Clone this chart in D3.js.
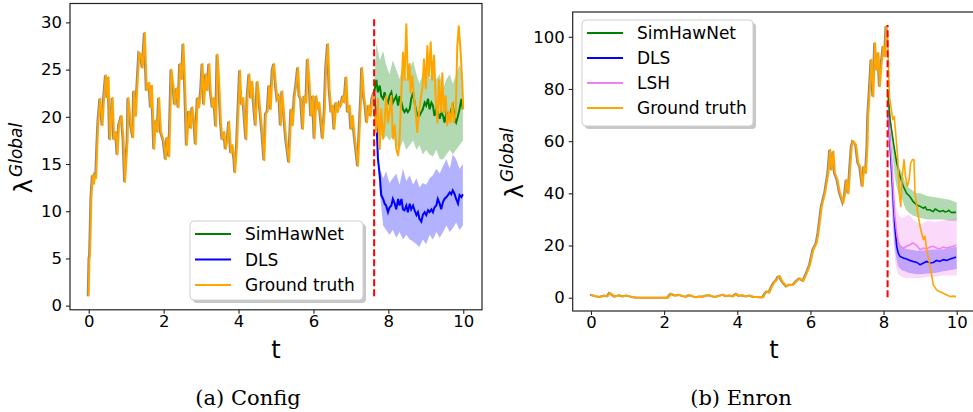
<!DOCTYPE html>
<html lang="en">
  <head>
    <meta charset="utf-8">
    <title>Global intensity forecasts</title>
    <script src="https://d3js.org/d3.v7.js"></script>
    <style>
      body { margin: 0; background: white; }
      * { font-family: "DejaVu Sans", sans-serif; }
      .tick text { font-size: 16.5px; fill: black; }
      .legend text { font-size: 17px; }
      .caption { font-family: "DejaVu Serif", serif; font-size: 21px; }
    </style>
  </head>
  <body>
    <script>
      // ---- data: [t, value] and bands [t, low, high] ----
      const xTicks = [0, 2, 4, 6, 8, 10];
      const configYTicks = [0, 5, 10, 15, 20, 25, 30];
      const enronYTicks = [0, 20, 40, 60, 80, 100];

      // (a) Config
      const configCut = 7.62;
      const configTruthPast = [[0,1.0],[0.02,5.0],[0.035,5.3],[0.05,7.5],[0.07,11.2],[0.09,12.6],[0.11,13.8],[0.14,12.9],[0.17,13.8],[0.2,13.5],[0.23,17.0],[0.26,19.6],[0.31,21.9],[0.37,19.1],[0.41,22],[0.46,24.4],[0.5,22],[0.53,24.2],[0.57,17.6],[0.64,22],[0.68,17.6],[0.73,18.4],[0.77,16],[0.81,19.1],[0.88,20.1],[0.93,17.6],[0.97,13.1],[1.04,17.6],[1.06,22],[1.13,19.1],[1.19,17.8],[1.21,22.7],[1.26,20.1],[1.3,23.3],[1.35,26.8],[1.39,26.6],[1.44,25.2],[1.5,28.9],[1.55,22.8],[1.62,23.6],[1.66,21],[1.69,23.3],[1.75,16.6],[1.79,19.6],[1.84,18.4],[1.88,22],[1.93,18.4],[2.0,17.5],[2.06,15.5],[2.1,17.8],[2.15,15.8],[2.21,25],[2.27,23],[2.3,21.3],[2.35,23],[2.4,21],[2.44,25.6],[2.49,24],[2.53,27.7],[2.58,22.6],[2.62,17],[2.68,20.6],[2.73,18.8],[2.77,21],[2.82,19.5],[2.86,17.1],[2.91,22],[2.95,21],[3.0,22.7],[3.04,25.6],[3.08,21.3],[3.13,24.5],[3.17,22.8],[3.22,25.6],[3.26,22.6],[3.31,21],[3.35,22],[3.4,19],[3.44,26.6],[3.48,24],[3.53,19.5],[3.57,17.6],[3.62,18.4],[3.66,16.6],[3.71,17.6],[3.75,19.5],[3.8,16.2],[3.84,17],[3.89,15.5],[3.91,14.1],[3.96,17],[4.0,21],[4.04,24.9],[4.08,21.3],[4.13,22],[4.18,19],[4.21,17.6],[4.24,22],[4.29,24.5],[4.33,22],[4.37,23.7],[4.42,21],[4.46,19.1],[4.51,23.7],[4.55,22],[4.6,19.9],[4.64,18.1],[4.69,15.4],[4.73,20.3],[4.78,20.6],[4.82,23.3],[4.86,20.8],[4.91,24.9],[4.95,25.6],[5.0,23.3],[5.04,21.8],[5.09,22.2],[5.13,19.1],[5.17,22.7],[5.22,20.1],[5.27,17.7],[5.35,15.2],[5.41,20.8],[5.45,19.1],[5.5,22.2],[5.54,23.3],[5.59,25.2],[5.63,22.2],[5.67,21.9],[5.72,18.7],[5.76,22.2],[5.81,21.5],[5.85,26.1],[5.9,23.3],[5.94,20.1],[5.99,22.2],[6.03,17.7],[6.08,22.2],[6.12,20.8],[6.16,21.5],[6.21,19.4],[6.25,17.7],[6.3,20.5],[6.34,25.2],[6.39,27.7],[6.43,23],[6.48,20.5],[6.52,21.2],[6.56,18.7],[6.61,21.5],[6.65,20.5],[6.7,21.5],[6.74,21.2],[6.79,22.2],[6.83,21.5],[6.88,24.2],[6.92,20.5],[6.97,21.2],[7.01,18.7],[7.05,20.1],[7.1,18],[7.14,16.6],[7.19,14.8],[7.23,18.4],[7.28,22.6],[7.3,25.2],[7.35,22.2],[7.39,21.2],[7.43,19.4],[7.48,21.2],[7.53,20.1],[7.57,21.9],[7.62,22.6]];
      const configTruthFuture = [[7.62,22.6],[7.63,20.5],[7.68,18.4],[7.72,21.9],[7.77,16.6],[7.81,20.8],[7.86,17.7],[7.9,19.4],[7.94,22.2],[7.99,19.4],[8.03,20.5],[8.08,22.2],[8.12,17.7],[8.17,19.1],[8.21,16.6],[8.26,15.9],[8.3,17.7],[8.35,23],[8.39,26.8],[8.43,23.9],[8.48,29.8],[8.52,23.9],[8.57,25.6],[8.59,22.6],[8.64,24.3],[8.68,22.2],[8.73,20.5],[8.77,18.4],[8.82,20.5],[8.86,21.9],[8.91,23],[8.95,26.1],[9.0,23],[9.04,27.5],[9.08,24.3],[9.13,27.9],[9.17,23.9],[9.22,26.5],[9.26,22.2],[9.31,19.4],[9.35,23.9],[9.4,20.5],[9.44,24.6],[9.48,20.5],[9.53,22.2],[9.57,19.1],[9.62,20.5],[9.66,19.4],[9.71,21.5],[9.75,19.4],[9.8,20.5],[9.84,27.5],[9.88,29.6],[9.93,26.8],[9.97,23.9],[10.0,20.8]];
      const configSim = [[7.62,22.6],[7.68,23.9],[7.72,22.6],[7.77,23.3],[7.81,22.2],[7.86,21.9],[7.9,22.6],[7.94,21.9],[7.99,21.5],[8.03,22.2],[8.08,22.6],[8.12,21.5],[8.17,21.9],[8.21,22.2],[8.26,21.2],[8.3,22.2],[8.35,21.5],[8.39,20.8],[8.43,20.5],[8.48,20.8],[8.52,20.5],[8.57,20.8],[8.61,21.9],[8.66,22.6],[8.7,21.5],[8.75,20.5],[8.79,20.1],[8.83,20.1],[8.88,20.5],[8.92,20.8],[8.97,21.5],[9.01,21.2],[9.06,21.9],[9.1,20.8],[9.15,21.5],[9.19,21.2],[9.23,20.1],[9.28,20.8],[9.32,20.5],[9.37,19.8],[9.41,20.5],[9.46,20.1],[9.5,19.4],[9.55,20.5],[9.59,20.1],[9.64,19.8],[9.68,20.8],[9.72,21.2],[9.77,19.8],[9.81,19.4],[9.86,20.1],[9.9,20.8],[9.95,21.9],[9.99,20.8]];
      const configSimBand = [[7.62,21.5,23],[7.68,19.5,27.9],[7.77,18.5,26],[7.86,17.5,27],[7.94,18,25.5],[8.03,17.5,24.5],[8.12,18,26],[8.21,17,25],[8.3,16.5,24],[8.39,17.5,25.5],[8.48,16.5,24],[8.57,17,25],[8.66,17.5,26],[8.75,16.5,24.5],[8.83,17,23.5],[8.92,16,24.5],[9.01,16.5,25],[9.1,16,24],[9.19,15.8,25.5],[9.28,16.5,24],[9.37,15.5,24.5],[9.46,15.5,23],[9.55,16,24],[9.64,16.5,24.5],[9.72,16,23.5],[9.81,16.5,24.5],[9.9,17,25.5],[9.99,17.5,24.5]];
      const configDls = [[7.62,22.6],[7.65,21.0],[7.68,19.8],[7.7,17.7],[7.72,15.6],[7.77,13.8],[7.81,11.7],[7.86,11.3],[7.9,10.8],[7.94,10.6],[7.99,9.9],[8.03,10.4],[8.08,10.6],[8.12,11.3],[8.17,10.8],[8.21,10.2],[8.26,11.3],[8.3,10.6],[8.35,11.3],[8.39,10.2],[8.43,10.1],[8.48,10.6],[8.52,9.9],[8.57,10.8],[8.61,10.2],[8.66,10.6],[8.7,10.1],[8.75,9.6],[8.79,9.9],[8.83,9.2],[8.88,8.9],[8.92,9.6],[8.97,9.9],[9.01,9.6],[9.06,10.1],[9.1,9.9],[9.15,10.2],[9.19,9.9],[9.23,10.4],[9.28,10.6],[9.32,11.3],[9.37,10.8],[9.41,10.2],[9.46,11.0],[9.5,11.3],[9.55,11.5],[9.59,11.7],[9.64,12.0],[9.68,11.8],[9.72,12.2],[9.77,11.8],[9.81,11.3],[9.86,10.8],[9.9,11.7],[9.95,11.5],[9.99,11.8]];
      const configDlsBand = [[7.62,22.4,22.8],[7.68,19.5,21],[7.72,15,17],[7.77,12,14.5],[7.86,8.5,13.5],[7.94,8,14.2],[8.03,7.5,13],[8.12,8,13.5],[8.21,7.2,14],[8.3,7.8,12.8],[8.39,7,14.5],[8.48,7.5,13.2],[8.57,7,13.8],[8.66,6.8,12.8],[8.75,6.5,13.5],[8.83,6.2,12.5],[8.92,7,13],[9.01,6.5,12.8],[9.1,7.5,13.5],[9.19,7,13.8],[9.28,7.8,14.5],[9.37,7.2,14],[9.46,7.8,14.8],[9.55,8.5,15.5],[9.64,7.8,14.5],[9.72,8.2,16],[9.81,8.8,15.5],[9.9,8,14.5],[9.99,8.5,15]];

      // (b) Enron
      const enronCut = 8.11;
      const enronTruthPast = [[0,1.15],[0.12,0.6],[0.25,0.3],[0.38,0.8],[0.45,0.5],[0.52,1.8],[0.6,1.0],[0.66,0.4],[0.72,0.7],[0.79,0.9],[0.88,0.5],[0.98,0.8],[1.05,0.6],[1.11,0.4],[1.25,0],[2.11,0],[2.16,1.0],[2.21,1.5],[2.28,0.9],[2.34,0.8],[2.41,1.1],[2.48,0.8],[2.55,0.5],[2.62,0.4],[2.68,0.9],[2.75,0.8],[2.82,0.4],[2.89,0.2],[2.98,0.5],[3.07,0.4],[3.16,0.8],[3.25,0.9],[3.34,0.5],[3.44,0.4],[3.53,0.8],[3.62,1.1],[3.71,0.6],[3.8,0.8],[3.89,0.5],[3.98,1.5],[4.05,0.7],[4.15,0.9],[4.25,0.5],[4.35,0.8],[4.45,0.3],[4.55,0.3],[4.65,0.2],[4.71,0.2],[4.76,1.5],[4.82,2.4],[4.88,2.0],[4.95,4.3],[5.02,6.0],[5.08,6.8],[5.12,7.9],[5.17,8.2],[5.22,6.5],[5.28,5.5],[5.35,4.3],[5.43,5.0],[5.53,4.9],[5.62,6.3],[5.71,7.4],[5.81,6.5],[5.9,9.4],[5.99,12.6],[6.08,18.4],[6.17,20.9],[6.22,24.8],[6.31,35],[6.4,40],[6.49,47.8],[6.54,56.7],[6.58,49],[6.63,56],[6.67,47.8],[6.74,45.2],[6.81,40],[6.9,36.3],[6.95,40],[6.99,45.2],[7.04,40],[7.08,47.8],[7.13,58],[7.17,60],[7.25,58.6],[7.31,51.6],[7.36,50.3],[7.43,42.7],[7.47,50.3],[7.52,47.8],[7.56,58],[7.58,69.5],[7.63,81],[7.67,91.2],[7.72,77.1],[7.77,97.6],[7.81,87.4],[7.86,93.8],[7.9,81],[7.95,90],[8.0,96.3],[8.04,92.5],[8.08,104],[8.11,100]];
      const enronTruthFuture = [[8.11,100],[8.16,77.1],[8.2,73.3],[8.25,68.2],[8.29,69.5],[8.34,61.8],[8.39,52.9],[8.43,40],[8.47,35],[8.51,46.5],[8.56,52.9],[8.6,46.5],[8.65,42.7],[8.7,45.2],[8.74,51.6],[8.79,52.9],[8.83,52.9],[8.86,40],[8.91,35],[8.95,31.1],[9.0,27.3],[9.04,24.8],[9.09,22.2],[9.13,23.5],[9.18,18.4],[9.22,15.8],[9.27,12],[9.32,8.2],[9.36,4.9],[9.45,3.0],[9.54,2.3],[9.63,1.7],[9.73,1.0],[9.82,0.4],[9.91,0.6],[9.98,0.4]];
      const enronSim = [[8.11,80],[8.18,68],[8.27,59.4],[8.36,51.6],[8.45,46.5],[8.54,42.7],[8.63,40],[8.72,38.8],[8.81,36.8],[8.91,35.5],[9.0,35],[9.05,34.6],[9.09,34.3],[9.14,34.8],[9.18,33.7],[9.27,33.7],[9.32,33.2],[9.36,33],[9.41,34],[9.45,33.7],[9.5,33.2],[9.54,33],[9.63,33.4],[9.68,32.9],[9.73,33],[9.78,33.5],[9.82,33],[9.87,32.6],[9.91,32.7],[9.98,32.7]];
      const enronSimBand = [[8.11,76,80],[8.15,70,75],[8.2,62,68],[8.25,54,62],[8.3,47,57],[8.35,43,54],[8.4,40,51],[8.5,38,48],[8.6,34,44],[8.7,32.5,42],[8.8,31.5,41],[8.9,31,40],[9.0,30.5,40],[9.2,30,39],[9.4,30,38.5],[9.6,30,38],[9.8,29.5,37.5],[10.0,29.5,36.5]];
      const enronDls = [[8.11,72],[8.13,69.5],[8.22,49],[8.27,36.3],[8.31,27.3],[8.36,19.7],[8.4,17.1],[8.45,15.8],[8.54,15.2],[8.63,14.8],[8.72,14.3],[8.81,13.9],[8.91,13.5],[9.0,12.6],[9.09,13.3],[9.18,13.9],[9.27,13.3],[9.36,13.5],[9.45,14.3],[9.54,13.9],[9.63,14.6],[9.73,14.3],[9.82,14.8],[9.91,15.2],[9.98,15.6]];
      const enronDlsBand = [[8.11,70,72],[8.15,58,68],[8.2,45,55],[8.25,30,38],[8.3,20,28],[8.35,15,23],[8.4,12,21],[8.5,10.5,19.5],[8.6,10,18.8],[8.7,9.5,18.5],[8.8,9.3,18.3],[8.9,9,18],[9.0,9,18],[9.2,9.3,18.3],[9.4,9.5,18.5],[9.6,10,18.5],[9.8,10.5,19],[10.0,11,19.5]];
      const enronLsh = [[8.11,72],[8.22,52.9],[8.27,40],[8.31,31.1],[8.36,24.8],[8.4,21.6],[8.45,19.7],[8.54,19.0],[8.63,19.7],[8.72,20.3],[8.81,21],[8.91,20],[9.0,18.4],[9.09,19.0],[9.18,18.7],[9.27,19.4],[9.36,19.7],[9.45,19.0],[9.54,18.7],[9.63,19.4],[9.73,19.0],[9.82,19.4],[9.91,19.7],[9.98,20.2]];
      const enronLshBand = [[8.11,70,74],[8.15,64,75],[8.2,42,62],[8.25,26,50],[8.3,16,40],[8.35,11,34],[8.4,9,32],[8.5,8,30.5],[8.6,7.5,31],[8.7,7.5,32],[8.8,7.5,30],[8.9,7.5,29],[9.0,7.5,28],[9.2,8,29.5],[9.4,8,29],[9.6,8.5,29.5],[9.8,8.5,30],[10.0,8.5,30.5]];

      const w = 973;
      const h = 412;

      const svg = d3.select("body")
        .append("svg")
        .attr("width", w)
        .attr("height", h);

      function drawPanel(p) {
        const x = d3.scaleLinear().domain([-0.5, 10.5]).range(p.xRange);
        const y = d3.scaleLinear().domain(p.yDomain).range(p.yRange);
        const g = svg.append("g");

        const line = d3.line().x(d => x(d[0])).y(d => y(d[1]));
        const area = d3.area().x(d => x(d[0])).y0(d => y(d[1])).y1(d => y(d[2]));

        // model bands then means
        p.models.forEach(m => {
          g.append("path").attr("d", area(m.band))
            .attr("fill", m.color).attr("fill-opacity", 0.3).attr("stroke", "none");
        });
        p.models.forEach(m => {
          g.append("path").attr("d", line(m.mean))
            .attr("fill", "none").attr("stroke", m.color).attr("stroke-width", p.lw);
        });

        // history: grey fit underneath, truth on top
        g.append("path").attr("d", line(p.past))
          .attr("transform", "translate(-1,0)")
          .attr("fill", "none").attr("stroke", "#8a8a8a").attr("stroke-width", p.truthW);
        g.append("path").attr("d", line(p.past))
          .attr("fill", "none").attr("stroke", "orange").attr("stroke-width", p.truthW)
          .attr("stroke-linejoin", "round");
        g.append("path").attr("d", line(p.future))
          .attr("fill", "none").attr("stroke", "orange").attr("stroke-width", p.futureW)
          .attr("stroke-linejoin", "round");

        // cut-off marker
        g.append("line")
          .attr("x1", x(p.cut)).attr("x2", x(p.cut))
          .attr("y1", y(p.cutRange[0])).attr("y2", y(p.cutRange[1]))
          .attr("stroke", "red").attr("stroke-width", 2).attr("stroke-dasharray", "7,3");

        // axes
        g.append("g")
          .attr("transform", `translate(0, ${p.yRange[0]})`)
          .call(d3.axisBottom(x).tickValues(xTicks).tickSize(4).tickPadding(1).tickSizeOuter(0))
          .call(a => a.select(".domain").remove());
        g.append("g")
          .attr("transform", `translate(${p.xRange[0]}, 0)`)
          .call(d3.axisLeft(y).tickValues(p.yTicks).tickSize(4).tickPadding(4).tickSizeOuter(0))
          .call(a => a.select(".domain").remove());
        g.selectAll(".tick line").attr("stroke", "#222").attr("stroke-width", 1.1);

        g.append("rect")
          .attr("x", p.xRange[0]).attr("y", p.yRange[1])
          .attr("width", p.xRange[1] - p.xRange[0])
          .attr("height", p.yRange[0] - p.yRange[1])
          .attr("fill", "none").attr("stroke", "#222").attr("stroke-width", 1.2);

        // axis labels
        g.append("text")
          .attr("x", x(5)).attr("y", 358)
          .attr("text-anchor", "middle")
          .style("font-size", "24px")
          .text("t");

        const yl = g.append("text")
          .attr("transform", `translate(${p.yLabel[0]}, ${p.yLabel[1]}) rotate(-90)`)
          .attr("text-anchor", "middle");
        yl.append("tspan").style("font-size", "24px").text("λ");
        yl.append("tspan").attr("dy", -10).attr("dx", 2)
          .style("font-size", "17px").style("font-style", "italic").text("Global");

        // legend with matplotlib-like shadow
        const L = p.legend;
        const lg = g.append("g").attr("class", "legend");
        lg.append("rect")
          .attr("x", L.x + 3).attr("y", L.y + 3).attr("width", L.w).attr("height", L.h)
          .attr("rx", 4).attr("fill", "#999").attr("fill-opacity", 0.55);
        lg.append("rect")
          .attr("x", L.x).attr("y", L.y).attr("width", L.w).attr("height", L.h)
          .attr("rx", 4).attr("fill", "white").attr("stroke", "#d0d0d0");
        L.items.forEach((it, i) => {
          const yy = L.y + L.first + i * L.step;
          lg.append("line")
            .attr("x1", L.x + 5).attr("x2", L.x + 41)
            .attr("y1", yy).attr("y2", yy)
            .attr("stroke", it.color).attr("stroke-width", 2);
          lg.append("text")
            .attr("x", L.x + 55).attr("y", yy).attr("dy", "0.36em")
            .text(it.name);
        });

        g.append("text")
          .attr("class", "caption")
          .attr("x", p.caption[0]).attr("y", 405)
          .attr("text-anchor", "middle")
          .text(p.caption[2]);
      }

      drawPanel({
        xRange: [70, 482],
        yRange: [309.8, 3.5],
        yDomain: [-0.44, 32],
        yTicks: configYTicks,
        lw: 2, truthW: 2, futureW: 2,
        past: configTruthPast,
        future: configTruthFuture,
        cut: configCut,
        cutRange: [1, 30.5],
        models: [
          {name: "SimHawNet", color: "green", mean: configSim, band: configSimBand},
          {name: "DLS", color: "blue", mean: configDls, band: configDlsBand}
        ],
        yLabel: [32, 158],
        legend: {x: 190, y: 221, w: 173, h: 79, first: 13, step: 25.5,
          items: [{name: "SimHawNet", color: "green"}, {name: "DLS", color: "blue"}, {name: "Ground truth", color: "orange"}]},
        caption: [248, 405, "(a) Config"]
      });

      drawPanel({
        xRange: [572.7, 975],
        yRange: [311, 12],
        yDomain: [-5.1, 109.5],
        yTicks: enronYTicks,
        lw: 1.6, truthW: 2, futureW: 1.6,
        past: enronTruthPast,
        future: enronTruthFuture,
        cut: enronCut,
        cutRange: [0.2, 104.5],
        models: [
          {name: "SimHawNet", color: "green", mean: enronSim, band: enronSimBand},
          {name: "DLS", color: "blue", mean: enronDls, band: enronDlsBand},
          {name: "LSH", color: "violet", mean: enronLsh, band: enronLshBand}
        ],
        yLabel: [523, 163],
        legend: {x: 582, y: 20, w: 171, h: 106, first: 13, step: 25,
          items: [{name: "SimHawNet", color: "green"}, {name: "DLS", color: "blue"}, {name: "LSH", color: "violet"}, {name: "Ground truth", color: "orange"}]},
        caption: [741, 405, "(b) Enron"]
      });
    </script>
  </body>
</html>
